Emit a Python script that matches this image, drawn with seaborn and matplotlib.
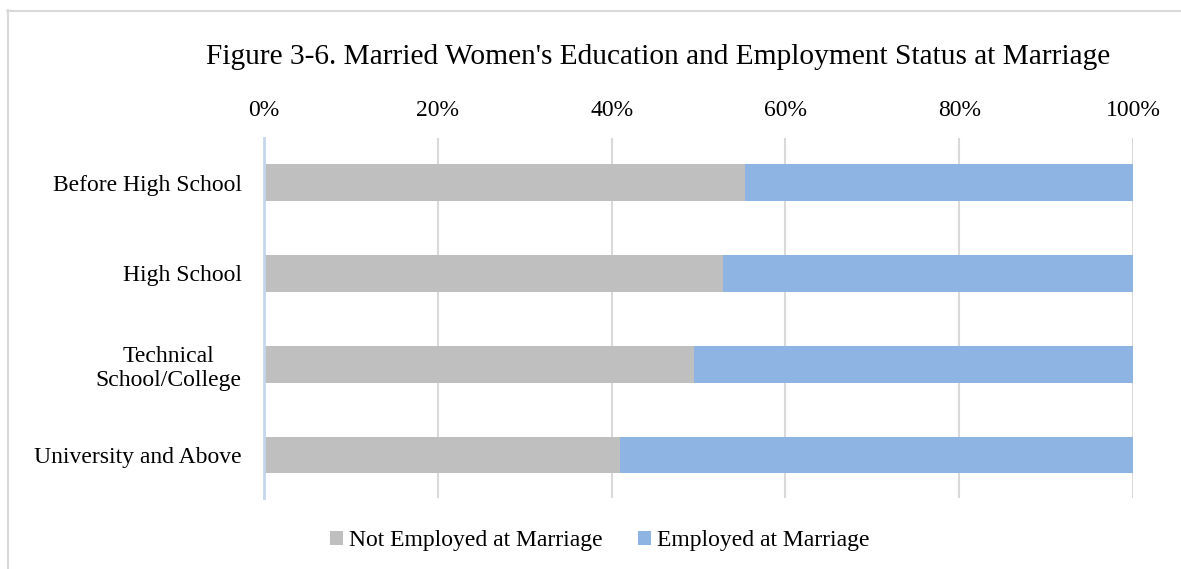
import matplotlib.pyplot as plt
import seaborn as sns
import pandas as pd
from matplotlib.lines import Line2D

# Data (percent of each education group)
education = ["Before High School", "High School", "Technical\nSchool/College", "University and Above"]
not_employed = [55.3, 52.8, 49.5, 41.0]
employed = [100 - v for v in not_employed]

df = pd.DataFrame({"Education": education,
                   "Not Employed at Marriage": not_employed,
                   "Employed at Marriage": employed})
df["Total"] = df["Not Employed at Marriage"] + df["Employed at Marriage"]

sns.set_style("white")
plt.rcParams["font.family"] = ["Liberation Serif", "DejaVu Serif"]
plt.rcParams["text.color"] = "#000000"

fig = plt.figure(figsize=(11.81, 5.69), dpi=100)
ax = fig.add_axes([0.2235, 0.1248, 0.7359, 0.6327])

gray = "#bfbfbf"
blue = "#8eb4e3"

# stacked bars: full total in blue, gray part drawn on top
sns.barplot(data=df, y="Education", x="Total", color=blue, width=0.4, saturation=1,
            orient="h", ax=ax, label="Employed at Marriage", linewidth=0, zorder=2)
sns.barplot(data=df, y="Education", x="Not Employed at Marriage", color=gray, width=0.4,
            saturation=1, orient="h", ax=ax, label="Not Employed at Marriage",
            linewidth=0, zorder=3)

ax.set_xlim(0, 100)
ax.set_ylim(3.47, -0.49)
ax.set_xticks([0, 20, 40, 60, 80, 100])
ax.set_xticklabels([f"{t}%" for t in [0, 20, 40, 60, 80, 100]])
ax.xaxis.tick_top()
ax.tick_params(axis="both", length=0, labelsize=17, colors="#000000")
ax.tick_params(axis="x", pad=12)
ax.tick_params(axis="y", pad=16)
ax.set_xlabel("")
ax.set_ylabel("")
for lbl in ax.get_yticklabels():
    lbl.set_multialignment("center")

ax.grid(axis="x", color="#d9d9d9", linewidth=1.5, zorder=0)
ax.set_axisbelow(True)
for s in ["top", "right", "bottom"]:
    ax.spines[s].set_visible(False)
ax.spines["left"].set_color("#c5d5ec")
ax.spines["left"].set_linewidth(2)
ax.spines["left"].set_zorder(5)

# legend below the plot, gray first
handles, labels = ax.get_legend_handles_labels()
order = [labels.index("Not Employed at Marriage"), labels.index("Employed at Marriage")]
fig.legend([handles[i] for i in order], [labels[i] for i in order],
           loc="center", bbox_to_anchor=(0.508, 0.05), ncol=2, frameon=False,
           fontsize=17, handlelength=0.55, handleheight=0.55, handletextpad=0.25,
           columnspacing=1.5)
if ax.get_legend():
    ax.get_legend().remove()

fig.text(0.557, 0.9, "Figure 3-6. Married Women's Education and Employment Status at Marriage",
         ha="center", va="center", fontsize=21.2, color="#000000")

# light frame lines (top and left) around the chart
fig.add_artist(Line2D([7 / 1181, 1.0], [1 - 10.5 / 569] * 2, transform=fig.transFigure,
                      color="#d9d9d9", linewidth=1.5))
fig.add_artist(Line2D([7.5 / 1181] * 2, [0.0, 1 - 10 / 569], transform=fig.transFigure,
                      color="#d9d9d9", linewidth=1.5))

fig.savefig("out.png", dpi=100)
